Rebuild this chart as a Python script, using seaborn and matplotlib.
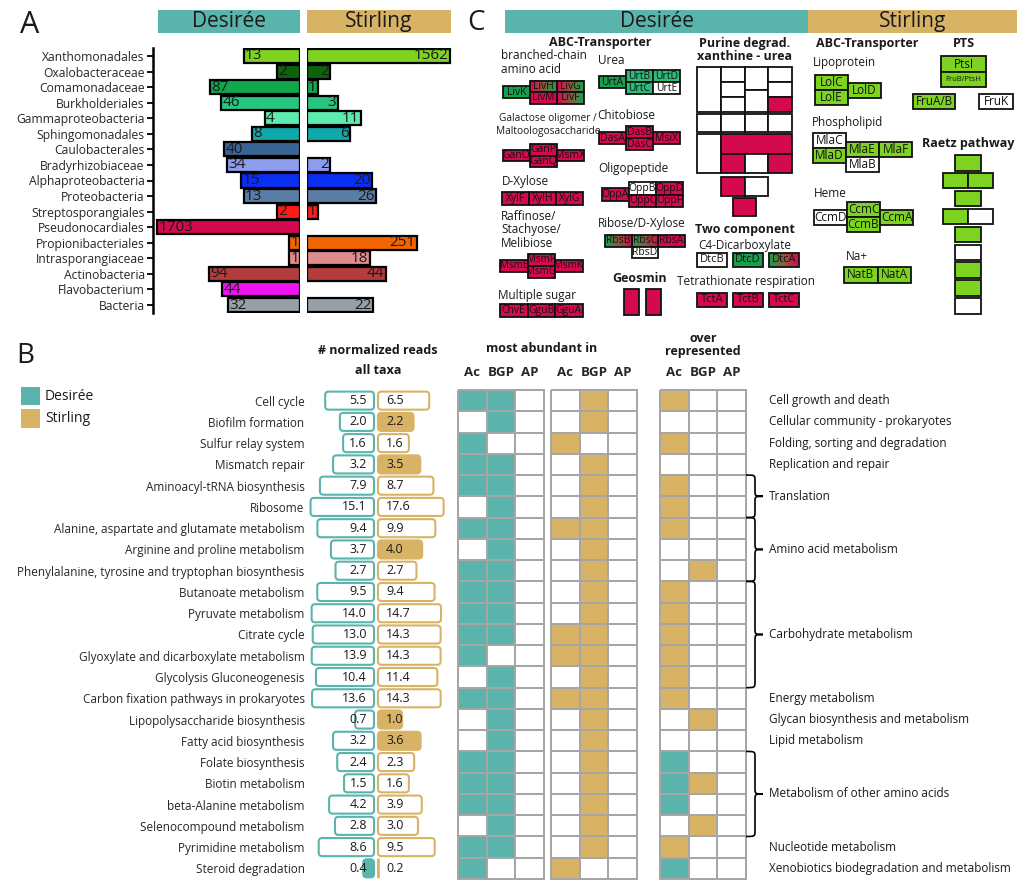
import numpy as np
import pandas as pd
import matplotlib
matplotlib.use("Agg")
import matplotlib.pyplot as plt
import seaborn as sns
from matplotlib.colors import ListedColormap, LinearSegmentedColormap
from matplotlib.patches import Rectangle, FancyBboxPatch, PathPatch
from matplotlib.path import Path
from matplotlib.transforms import IdentityTransform, blended_transform_factory

sns.set_style("white")
plt.rcParams["font.family"] = ["Open Sans", "DejaVu Sans"]
plt.rcParams["text.color"] = "#1a1a1a"

TEAL = "#5ab4ac"
GOLD = "#d8b365"
RED = "#d4094f"
GREEN = "#17a04c"
MINT = "#2dbb79"
LIME = "#7ed321"

# ==============================
# DATA - panel A (reads per taxon)
# ==============================
taxa = ["Xanthomonadales", "Oxalobacteraceae", "Comamonadaceae", "Burkholderiales",
        "Gammaproteobacteria", "Sphingomonadales", "Caulobacterales", "Bradyrhizobiaceae",
        "Alphaproteobacteria", "Proteobacteria", "Streptosporangiales", "Pseudonocardiales",
        "Propionibacteriales", "Intrasporangiaceae", "Actinobacteria", "Flavobacterium", "Bacteria"]
taxa_colors = ["#7ed321", "#0a640a", "#11a84c", "#27c67f", "#5debb0", "#10a8a8", "#3a6494",
               "#8c9dec", "#0a2ef2", "#5a7da6", "#ff1a1a", "#d4094f", "#f26400", "#e08c8c",
               "#b33c3c", "#f012f0", "#96a0a6"]
reads_desiree = [13, 2, 87, 46, 4, 8, 40, 34, 15, 13, 2, 1703, 1, 1, 94, 44, 32]
reads_stirling = [1562, 2, 1, 3, 11, 6, np.nan, 2, 20, 26, 1, np.nan, 251, 18, 44, np.nan, 22]

# ==============================
# DATA - panel B
# ==============================
pathways = ["Cell cycle", "Biofilm formation", "Sulfur relay system", "Mismatch repair",
            "Aminoacyl-tRNA biosynthesis", "Ribosome", "Alanine, aspartate and glutamate metabolism",
            "Arginine and proline metabolism", "Phenylalanine, tyrosine and tryptophan biosynthesis",
            "Butanoate metabolism", "Pyruvate metabolism", "Citrate cycle",
            "Glyoxylate and dicarboxylate metabolism", "Glycolysis Gluconeogenesis",
            "Carbon fixation pathways in prokaryotes", "Lipopolysaccharide biosynthesis",
            "Fatty acid biosynthesis", "Folate biosynthesis", "Biotin metabolism",
            "beta-Alanine metabolism", "Selenocompound metabolism", "Pyrimidine metabolism",
            "Steroid degradation"]
norm_desiree = [5.5, 2.0, 1.6, 3.2, 7.9, 15.1, 9.4, 3.7, 2.7, 9.5, 14.0, 13.0, 13.9, 10.4,
                13.6, 0.7, 3.2, 2.4, 1.5, 4.2, 2.8, 8.6, 0.4]
norm_stirling = [6.5, 2.2, 1.6, 3.5, 8.7, 17.6, 9.9, 4.0, 2.7, 9.4, 14.7, 14.3, 14.3, 11.4,
                 14.3, 1.0, 3.6, 2.3, 1.6, 3.9, 3.0, 9.5, 0.2]
fill_desiree = [0] * 22 + [1]
fill_stirling = [0, 1, 0, 1, 0, 0, 0, 1, 0, 0, 0, 0, 0, 0, 0, 1, 1, 0, 0, 0, 0, 0, 1]

abund_desiree_ac = [1, 0, 1, 1, 1, 0, 1, 0, 1, 1, 1, 1, 1, 0, 1, 0, 0, 1, 1, 1, 0, 1, 1]
abund_desiree_bgp = [1, 1, 0, 1, 1, 1, 1, 1, 1, 1, 1, 1, 0, 1, 1, 1, 1, 1, 1, 1, 1, 1, 0]
abund_desiree_ap = [0] * 23
abund_stirling_ac = [0, 0, 1, 0, 0, 0, 1, 0, 0, 0, 0, 1, 1, 0, 1, 0, 0, 0, 0, 0, 0, 0, 1]
abund_stirling_bgp = [1, 1, 0, 1, 1, 1, 1, 1, 1, 1, 1, 1, 1, 1, 1, 1, 1, 1, 1, 1, 1, 1, 0]
abund_stirling_ap = [0] * 23
# over represented: "S" = Stirling, "D" = Desiree, "" = none
over_ac = ["S", "", "S", "", "S", "S", "S", "", "", "S", "S", "S", "S", "S", "S", "", "",
           "D", "D", "D", "", "S", "D"]
over_bgp = ["", "", "", "", "", "", "", "", "S", "", "", "", "", "", "", "S", "", "", "S",
            "", "S", "", ""]
over_ap = [""] * 23

groups = ["Cell growth and death", "Cellular community - prokaryotes",
          "Folding, sorting and degradation", "Replication and repair", "Translation",
          "Amino acid metabolism", "Carbohydrate metabolism", "Energy metabolism",
          "Glycan biosynthesis and metabolism", "Lipid metabolism",
          "Metabolism of other amino acids", "Nucleotide metabolism",
          "Xenobiotics biodegradation and metabolism"]
group_sizes = [1, 1, 1, 1, 2, 3, 5, 1, 1, 1, 4, 1, 1]

# ==============================
# DATA - panel C (gene states: R red, G green, M mint, L lime, W none, RG/GR gradient)
# ==============================
liv_genes = [["LivK"], ["LivH", "LivM"], ["LivG", "LivF"]]
liv_state = [["G"], ["RG", "R"], ["RG", "RG"]]
urt_genes = [["UrtA"], ["UrtB", "UrtC"], ["UrtD", "UrtE"]]
urt_state = [["G"], ["M", "M"], ["M", "W"]]
das_genes = [["DasA"], ["DasB", "DasC"], ["MsiX"]]
das_state = [["R"], ["R", "R"], ["R"]]
gan_genes = [["GanO"], ["GanP", "GanQ"], ["MsmX"]]
gan_state = [["R"], ["R", "R"], ["R"]]
xyl_genes = [["XylF"], ["XylH"], ["XylG"]]
xyl_state = [["R"], ["R"], ["R"]]
msm_genes = [["MsmE"], ["MsmF", "MsmG"], ["MsmK"]]
msm_state = [["R"], ["R", "R"], ["R"]]
ggu_genes = [["ChvE"], ["GguB"], ["GguA"]]
ggu_state = [["R"], ["R"], ["R"]]
opp_genes = [["OppA"], ["OppB", "OppC"], ["OppD", "OppF"]]
opp_state = [["R"], ["W", "R"], ["R", "R"]]
rbs_genes = [["RbsB"], ["RbsC", "RbsD"], ["RbsA"]]
rbs_state = [["GR"], ["GR", "W"], ["R"]]
dtc_genes = [["DtcB"], ["DtcD"], ["DtcA"]]
dtc_state = [["W"], ["G"], ["GR"]]
tct_genes = [["TctA"], ["TctB"], ["TctC"]]
tct_state = [["R"], ["R"], ["R"]]
geosmin_state = ["R", "R"]
purine_state = ["W", "W", "W", "W", "W", "W", "W", "W", "R",
                "W", "W", "W", "W",
                "W", "R", "R", "W", "R",
                "R", "W",
                "R"]

lol_genes = [["LolC", "LolE"], ["LolD"]]
lol_state = [["L", "L"], ["L"]]
mla_genes = [["MlaC", "MlaD"], ["MlaE", "MlaB"], ["MlaF"]]
mla_state = [["W", "L"], ["L", "W"], ["L"]]
ccm_genes = [["CcmD"], ["CcmC", "CcmB"], ["CcmA"]]
ccm_state = [["W"], ["L", "L"], ["L"]]
nat_genes = [["NatB"], ["NatA"]]
nat_state = [["L"], ["L"]]
pts_genes = [["PtsI", "FruB/PtsH"]]
pts_state = [["L", "L"]]
fru_genes = ["FruA/B", "FruK"]
fru_state = ["L", "W"]
raetz_state = [["L"], ["L", "L"], ["L"], ["L", "W"], ["L"], ["W"], ["L"], ["L"], ["W"]]

# ==============================
# FIGURE
# ==============================
W, H = 1025, 886
fig = plt.figure(figsize=(W / 100, H / 100), dpi=100)


def px_axes(x0, y0, x1, y1, **kw):
    return fig.add_axes([x0 / W, 1 - y1 / H, (x1 - x0) / W, (y1 - y0) / H], **kw)


# ------------------------------
# Panel A
# ------------------------------
dfA = pd.DataFrame({"taxon": taxa, "Desiree": reads_desiree, "Stirling": reads_stirling})
baseA = 0.54
axD = px_axes(153, 48.2, 300, 312.8)
axS = px_axes(307, 48.2, 455, 312.8)

for ax, col, lim in [(axD, "Desiree", (2175, baseA)), (axS, "Stirling", (baseA, 2110))]:
    sns.barplot(data=dfA, x=col, y="taxon", hue="taxon", palette=taxa_colors, legend=False,
                saturation=1, width=0.9, edgecolor="black", linewidth=1.6, ax=ax)
    ax.set_xscale("log")
    for p in ax.patches:
        w = p.get_width()
        p.set_x(baseA)
        p.set_width(w - baseA)
    ax.set_xlim(*lim)
    ax.set_ylim(16.5, -0.5)
    ax.set_xticks([])
    ax.set_xlabel("")
    ax.set_ylabel("")
    ax.patch.set_alpha(0)
    for s in ax.spines.values():
        s.set_visible(False)
    for i, v in enumerate(dfA[col]):
        if np.isnan(v):
            continue
        if col == "Desiree":
            ax.annotate(f"{v:.0f}", (v, i), xytext=(1, 0), textcoords="offset points",
                        ha="left", va="center", fontsize=11)
        else:
            ax.annotate(f"{v:.0f}", (v, i), xytext=(-1, 0), textcoords="offset points",
                        ha="right", va="center", fontsize=11)

axD.spines["left"].set_visible(True)
axD.spines["left"].set_color("black")
axD.spines["left"].set_linewidth(1.8)
axD.yaxis.set_ticks_position("left")
axD.tick_params(axis="y", left=True, length=4, width=1.3, color="black", pad=2, labelsize=8.7)
axS.set_yticks([])

# ------------------------------
# Panel B - bars
# ------------------------------
dfB = pd.DataFrame({"pathway": pathways, "Desiree": norm_desiree, "Stirling": norm_stirling})
baseB = 0.19
bD = px_axes(308, 390, 374, 879)
bS = px_axes(378, 390, 446, 879)

for ax, col, color, fills, lim in [(bD, "Desiree", TEAL, fill_desiree, (18.0, baseB)),
                                   (bS, "Stirling", GOLD, fill_stirling, (baseB, 20.7))]:
    sns.barplot(data=dfB, x=col, y="pathway", color=color, saturation=1, width=0.85, ax=ax)
    ax.set_xscale("log")
    ax.set_xlim(*lim)
    ax.set_ylim(22.5, -0.5)
    ax.set_xticks([])
    ax.set_xlabel("")
    ax.set_ylabel("")
    ax.patch.set_alpha(0)
    for s in ax.spines.values():
        s.set_visible(False)
    # rounded bars, built from the library's own bar geometry
    for p, filled in zip(list(ax.patches), fills):
        y0, hgt, val = p.get_y(), p.get_height(), p.get_width()
        (xa, ya), (xb, yb) = ax.transData.transform([(baseB, y0), (val, y0 + hgt)])
        x_min, x_max = min(xa, xb), max(xa, xb)
        y_min, y_max = min(ya, yb), max(ya, yb)
        r = min(3.5, (x_max - x_min) / 2, (y_max - y_min) / 2)
        fb = FancyBboxPatch((x_min, y_min), x_max - x_min, y_max - y_min,
                            boxstyle=f"round,pad=0,rounding_size={r}",
                            fc=color if filled else "white", ec=color, lw=1.5,
                            transform=IdentityTransform(), clip_on=False, zorder=1)
        ax.add_patch(fb)
        p.remove()
    tr = blended_transform_factory(ax.transAxes, ax.transData)
    for i, v in enumerate(dfB[col]):
        if col == "Desiree":
            ax.text(0.894, i, f"{v:.1f}", transform=tr, ha="right", va="center", fontsize=9, zorder=3)
        else:
            ax.text(0.118, i, f"{v:.1f}", transform=tr, ha="left", va="center", fontsize=9, zorder=3)

bD.tick_params(axis="y", length=0, pad=2.5, labelsize=8.5)
bS.set_yticks([])

# ------------------------------
# Panel B - grids
# ------------------------------
grid_cols = ["Ac", "BGP", "AP"]
df_g1 = pd.DataFrame({"Ac": abund_desiree_ac, "BGP": abund_desiree_bgp, "AP": abund_desiree_ap}, index=pathways)
df_g2 = pd.DataFrame({"Ac": abund_stirling_ac, "BGP": abund_stirling_bgp, "AP": abund_stirling_ap}, index=pathways)
over_code = {"": 0, "S": 1, "D": 2}
df_g3 = pd.DataFrame({"Ac": [over_code[v] for v in over_ac],
                      "BGP": [over_code[v] for v in over_bgp],
                      "AP": [over_code[v] for v in over_ap]}, index=pathways)

g1 = px_axes(458, 390, 544, 879)
g2 = px_axes(551, 390, 637, 879)
g3 = px_axes(660, 390, 746, 879)
for ax, df, cmap, vmax in [(g1, df_g1, ListedColormap(["white", TEAL]), 1),
                           (g2, df_g2, ListedColormap(["white", GOLD]), 1),
                           (g3, df_g3, ListedColormap(["white", GOLD, TEAL]), 2)]:
    sns.heatmap(df[grid_cols], cmap=cmap, vmin=0, vmax=vmax, cbar=False, linewidths=1.2,
                linecolor="#a6a6a6", xticklabels=True, yticklabels=False, ax=ax)
    ax.collections[0].set_clip_on(False)
    ax.xaxis.tick_top()
    ax.tick_params(axis="x", length=0, pad=8, labelsize=9.5, rotation=0)
    for t in ax.get_xticklabels():
        t.set_fontweight("bold")
    ax.set_xlabel("")
    ax.set_ylabel("")

# ------------------------------
# Panel B - functional groups with braces
# ------------------------------
rt = px_axes(746, 390, 1025, 879)
rt.set_xlim(0, 279)
rt.set_ylim(23, 0)
rt.axis("off")


def brace(ax, y0, y1, xv=9, xt=17, ry=0.3):
    ym = (y0 + y1) / 2
    verts = [(0, y0), (xv, y0), (xv, y0), (xv, y0 + ry),
             (xv, ym - ry),
             (xv, ym), (xv, ym), (xt, ym),
             (xv, ym), (xv, ym), (xv, ym + ry),
             (xv, y1 - ry),
             (xv, y1), (xv, y1), (0, y1)]
    codes = [Path.MOVETO] + [Path.CURVE4] * 3 + [Path.LINETO] + [Path.CURVE4] * 6 + \
            [Path.LINETO] + [Path.CURVE4] * 3
    ax.add_patch(PathPatch(Path(verts, codes), fc="none", ec="black", lw=1.2, clip_on=False))


start = 0
for name, n in zip(groups, group_sizes):
    rt.text(23, start + n / 2, name, ha="left", va="center", fontsize=8.5)
    if n > 1:
        brace(rt, start, start + n)
    start += n

# ------------------------------
# Overlay: headers, titles, legend and panel C schematic
# ------------------------------
ov = fig.add_axes([0, 0, 1, 1], zorder=5)
ov.axis("off")


def header(x0, x1, text, color):
    ov.add_patch(Rectangle((x0, 10), x1 - x0, 23, fc=color, ec="none"))
    ov.text((x0 + x1) / 2, 21, text, ha="center", va="center", fontsize=15)


header(158, 300, "Desirée", TEAL)
header(307, 451, "Stirling", GOLD)
header(505, 808, "Desirée", TEAL)
header(808, 1017, "Stirling", GOLD)

ov.text(20, 25, "A", fontsize=22, ha="left", va="center")
ov.text(16, 356, "B", fontsize=20, ha="left", va="center")
ov.text(467, 23, "C", fontsize=20, ha="left", va="center")

# panel B headers and legend
ov.text(378, 350, "# normalized reads", ha="center", va="center", fontsize=9, fontweight="bold")
ov.text(378, 370, "all taxa", ha="center", va="center", fontsize=9, fontweight="bold")
ov.text(542, 349, "most abundant in", ha="center", va="center", fontsize=9, fontweight="bold")
ov.text(703, 339, "over", ha="center", va="center", fontsize=9, fontweight="bold")
ov.text(703, 352, "represented", ha="center", va="center", fontsize=9, fontweight="bold")
ov.add_patch(Rectangle((21, 387), 19, 18, fc=TEAL, ec="none"))
ov.add_patch(Rectangle((21, 409), 19, 19, fc=GOLD, ec="none"))
ov.text(45, 396, "Desirée", ha="left", va="center", fontsize=10)
ov.text(45, 418, "Stirling", ha="left", va="center", fontsize=10)

# panel C
state_colors = {"R": RED, "G": GREEN, "M": MINT, "L": LIME, "W": "white"}


def gene_box(x, y, w, h, state, label=None, fs=7.5):
    if state in ("RG", "GR"):
        cols = [RED, "#8a5a3c", GREEN] if state == "RG" else [GREEN, "#8a5a3c", RED]
        cmap = LinearSegmentedColormap.from_list("grad", cols)
        ov.imshow(np.linspace(0, 1, 64).reshape(1, -1), cmap=cmap, extent=(x, x + w, y + h, y),
                  aspect="auto", zorder=2, interpolation="bilinear")
        ov.add_patch(Rectangle((x, y), w, h, fc="none", ec="#111111", lw=1.3, zorder=3))
    else:
        ov.add_patch(Rectangle((x, y), w, h, fc=state_colors[state], ec="#111111", lw=1.3, zorder=3))
    if label:
        ov.text(x + w / 2, y + h / 2, label, ha="center", va="center", fontsize=fs,
                color="#111111", zorder=4)


def module(x0, ytop, genes, states, w, h, fs=7.5, dys=None, gap=0):
    n = max(len(c) for c in genes)
    for i, (col, st) in enumerate(zip(genes, states)):
        dy = dys[i] if dys is not None else (n - len(col)) * h / 2
        for j, (g, s) in enumerate(zip(col, st)):
            gene_box(x0 + i * (w + gap), ytop + dy + j * h, w, h, s, g, fs)


def label(x, y, text, ha="left", bold=False, fs=8.5):
    ov.text(x, y, text, ha=ha, va="center", fontsize=fs, fontweight="bold" if bold else "normal")


# Desiree side
label(600, 42, "ABC-Transporter", ha="center", bold=True, fs=9)
label(501, 55, "branched-chain")
label(501, 69, "amino acid")
module(503, 80.5, liv_genes, liv_state, 27, 11.5)
label(598, 60, "Urea")
module(599, 70, urt_genes, urt_state, 27, 12)
label(548, 118, "Galactose oligomer /", ha="center", fs=7.3)
label(548, 131, "Maltoologosaccharide", ha="center", fs=7.3)
module(503, 144, gan_genes, gan_state, 27, 11.5)
label(597, 115, "Chitobiose")
module(599, 126, das_genes, das_state, 27, 12)
label(502, 181, "D-Xylose")
module(502, 192, xyl_genes, xyl_state, 27, 13)
label(501, 216, "Raffinose/")
label(501, 229, "Stachyose/")
label(501, 243, "Melibiose")
module(500, 254, msm_genes, msm_state, 27.5, 12, fs=7)
label(498, 295, "Multiple sugar")
module(500, 304, ggu_genes, ggu_state, 27.5, 13)
label(598, 168, "Oligopeptide")
module(602, 182, opp_genes, opp_state, 27, 12.5)
label(598, 223, "Ribose/D-Xylose")
module(605, 235, rbs_genes, rbs_state, 26.5, 11.5, dys=[0, 0, 0])
label(640, 278, "Geosmin", ha="center", bold=True, fs=9)
for k, s in enumerate(geosmin_state):
    gene_box(624 + k * 22, 289, 15, 26, s)

label(745, 43, "Purine degrad.", ha="center", bold=True, fs=9)
label(745, 56, "xanthine - urea", ha="center", bold=True, fs=9)
cw = 23.75
purine_layout = [(0, 0, 1, 45), (1, 0, 1, 15), (1, 15, 1, 15), (1, 30, 1, 15),
                 (2, 0, 1, 22.5), (2, 22.5, 1, 22.5), (3, 0, 1, 15), (3, 15, 1, 15), (3, 30, 1, 15),
                 (0, 47, 1, 18), (1, 47, 1, 18), (2, 47, 1, 18), (3, 47, 1, 18),
                 (0, 67, 1, 39), (1, 67, 3, 19.5), (1, 86.5, 1, 19.5), (2, 86.5, 1, 19.5), (3, 86.5, 1, 19.5),
                 (1, 110, 1, 19), (2, 110, 1, 19),
                 (1.5, 131, 1, 18)]
for (c, dy, span, hh), s in zip(purine_layout, purine_state):
    gene_box(697 + c * cw, 67 + dy, span * cw, hh, s)

label(695, 229, "Two component", bold=True, fs=9)
label(698, 245, "C4-Dicarboxylate")
module(697, 253, dtc_genes, dtc_state, 30, 14, fs=8, gap=6)
label(677, 282, "Tetrathionate respiration")
module(697, 293, tct_genes, tct_state, 30, 14, fs=8, gap=6)

# Stirling side
label(867, 43, "ABC-Transporter", ha="center", bold=True, fs=9)
label(964, 43, "PTS", ha="center", bold=True, fs=9)
label(813, 62, "Lipoprotein")
module(815, 75, lol_genes, lol_state, 33, 15, fs=8.5)
label(812, 122, "Phospholipid")
module(813, 133, mla_genes, mla_state, 33, 15, fs=8.5, dys=[0, 9, 9])
label(814, 193, "Heme")
module(814, 202, ccm_genes, ccm_state, 33, 15, fs=8.5)
label(846, 256, "Na+")
module(844, 267, nat_genes, nat_state, 33.5, 16, fs=8.5)
gene_box(941, 56, 45, 16, pts_state[0][0], pts_genes[0][0], fs=8.5)
gene_box(941, 72, 45, 15, pts_state[0][1], pts_genes[0][1], fs=5.5)
gene_box(913, 94, 42, 15, fru_state[0], fru_genes[0], fs=8.5)
gene_box(979, 94, 34, 15, fru_state[1], fru_genes[1], fs=8.5)

label(968, 143, "Raetz pathway", ha="center", bold=True, fs=9)
for r, row in enumerate(raetz_state):
    y = 155 + r * 17.9
    if len(row) == 1:
        gene_box(955, y, 26, 15.5, row[0])
    else:
        for k, s in enumerate(row):
            gene_box(943 + k * 25, y, 25, 15.5, s)

ov.set_xlim(0, W)
ov.set_ylim(H, 0)

fig.savefig("out.png", dpi=100)
